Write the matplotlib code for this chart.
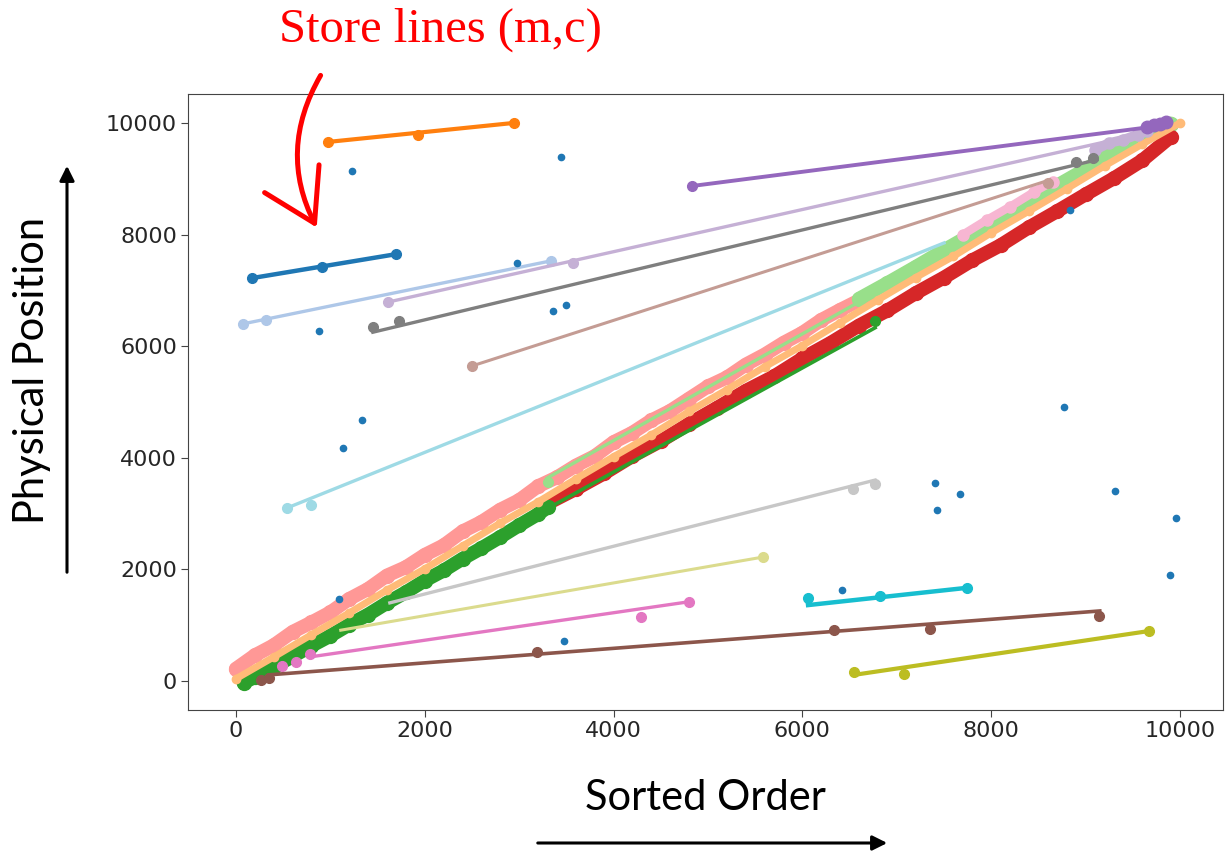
import matplotlib
matplotlib.use("Agg")
import matplotlib.pyplot as plt
from matplotlib.patches import FancyArrowPatch

# dense diagonal bands (sorted order vs physical position)
salmon_x = [0, 200, 400, 600, 800, 1000, 1200, 1400, 1600, 1800, 2000, 2200, 2400, 2600,
            2800, 3000, 3200, 3400, 3600, 3800, 4000, 4200, 4400, 4600, 4800, 5000, 5200,
            5400, 5600, 5800, 6000, 6200, 6400, 6600, 6700]
salmon_y = [220, 460, 640, 880, 1050, 1230, 1470, 1650, 1890, 2040, 2260, 2430, 2680, 2850,
            3070, 3240, 3490, 3650, 3860, 4030, 4280, 4450, 4670, 4840, 5060, 5280, 5440,
            5670, 5850, 6060, 6240, 6470, 6650, 6820, 6900]

orange_x = [0, 400, 800, 1200, 1600, 2000, 2400, 2800, 3200, 3600, 4000, 4400, 4800, 5200,
            5600, 6000, 6400, 6800, 7200, 7600, 8000, 8400, 8800, 9200, 9600, 10000]
orange_y = [40, 430, 830, 1220, 1630, 2010, 2420, 2830, 3210, 3620, 4020, 4410, 4830, 5220,
            5630, 6010, 6420, 6830, 7230, 7610, 8030, 8420, 8820, 9230, 9620, 10000]

green_x = [80, 200, 400, 600, 800, 1000, 1200, 1400, 1600, 1800, 2000, 2200, 2400, 2600,
           2800, 3000, 3200, 3300]
green_y = [-30, 70, 250, 440, 630, 810, 1010, 1190, 1400, 1590, 1800, 1980, 2190, 2380,
           2580, 2790, 2990, 3110]

red_x = [3300, 3600, 3900, 4200, 4500, 4800, 5100, 5400, 5700, 6000, 6300, 6600, 6900, 7200,
         7500, 7800, 8100, 8400, 8700, 9000, 9300, 9600, 9900]
red_y = [3180, 3440, 3720, 4030, 4300, 4610, 4900, 5200, 5460, 5780, 6060, 6370, 6640, 6950,
         7230, 7540, 7810, 8130, 8420, 8720, 9010, 9330, 9750]

lgreen_x = [6600, 6900, 7200, 7500, 7800, 8100, 8400, 8700, 9000, 9300, 9600, 9900]
lgreen_y = [6850, 7130, 7420, 7720, 8010, 8280, 8600, 8880, 9170, 9480, 9760, 9990]

lpink_x = [7700, 7950, 8200, 8450, 8650]
lpink_y = [8000, 8260, 8500, 8760, 8950]

lilac_cl_x = [9100, 9250, 9400, 9550, 9650]
lilac_cl_y = [9520, 9640, 9700, 9790, 9850]

purple_cl_x = [9650, 9720, 9790, 9850]
purple_cl_y = [9920, 9960, 9990, 10010]

# stored line segments: (x0, y0, x1, y1)
seg_colors = ['#1f77b4', '#ff7f0e', '#aec7e8', '#c5b0d5', '#7f7f7f', '#c49c94', '#9edae5',
              '#9467bd', '#98df8a', '#2ca02c', '#c7c7c7', '#dbdb8d', '#e377c2', '#8c564b',
              '#17becf', '#bcbd22']
seg_x0 = [170, 975, 75, 1610, 1450, 2500, 540, 4830, 3300, 3300, 1630, 1110, 780, 350, 6060, 6550]
seg_y0 = [7220, 9660, 6400, 6790, 6250, 5645, 3100, 8870, 3640, 3090, 1400, 910, 430, 110, 1360, 110]
seg_x1 = [1700, 2940, 3340, 9390, 9120, 8620, 7500, 9790, 6690, 6770, 6770, 5580, 4800, 9150, 7745, 9670]
seg_y1 = [7650, 10000, 7530, 9730, 9340, 8980, 7850, 9950, 6880, 6330, 3600, 2220, 1420, 1255, 1670, 895]
seg_lw = [3.2, 3.0, 2.4, 2.4, 2.4, 2.2, 2.4, 2.8, 2.4, 2.6, 2.4, 2.2, 2.4, 2.6, 3.2, 3.0]

# points belonging to each segment
seg_pts_x = [
    [170, 910, 1700],
    [975, 1930, 2940],
    [75, 320, 3340],
    [1610, 3570],
    [1450, 1730, 8900, 9080],
    [2500, 8600],
    [540, 800],
    [4830],
    [3300],
    [6770],
    [6540, 6770],
    [5580],
    [490, 640, 780, 4290, 4800],
    [260, 350, 3190, 6335, 7350, 9140],
    [6060, 6820, 7745],
    [6550, 7075, 9670],
]
seg_pts_y = [
    [7220, 7420, 7650],
    [9660, 9785, 10000],
    [6400, 6470, 7530],
    [6790, 7490],
    [6340, 6460, 9300, 9380],
    [5645, 8930],
    [3100, 3160],
    [8870],
    [3560],
    [6460],
    [3440, 3530],
    [2220],
    [270, 340, 480, 1150, 1420],
    [20, 60, 520, 915, 930, 1165],
    [1490, 1520, 1670],
    [160, 125, 895],
]

# points that no segment covers
out_x = [1229, 3443, 2977, 879, 3358, 3496, 1335, 1133, 1091, 3475, 6419, 7405, 7426, 7669,
         8771, 9311, 9957, 9894, 8834]
out_y = [9139, 9390, 7490, 6272, 6630, 6738, 4677, 4175, 1469, 717, 1631, 3548, 3064, 3351,
         4910, 3405, 2921, 1900, 8440]

W, H = 1230, 858
fig = plt.figure(figsize=(W / 100, H / 100), dpi=100)
ax = fig.add_axes([188 / W, 1 - 710 / H, (1223 - 188) / W, (710 - 94) / H])

band_kw = dict(marker='o', solid_capstyle='round', zorder=2)
ax.plot(salmon_x, salmon_y, color='#ff9896', lw=10, ms=10, **band_kw)
ax.plot(lgreen_x, lgreen_y, color='#98df8a', lw=10, ms=10, **band_kw)
ax.plot(lpink_x, lpink_y, color='#f7b6d2', lw=6, ms=8, **band_kw)
ax.plot(red_x, red_y, color='#d62728', lw=10, ms=10, **band_kw)
ax.plot(green_x, green_y, color='#2ca02c', lw=10, ms=10, **band_kw)
ax.plot(orange_x, orange_y, color='#ffbb78', lw=5, ms=6, **band_kw)
ax.plot(lilac_cl_x, lilac_cl_y, color='#c5b0d5', lw=7, ms=8, **band_kw)
ax.plot(purple_cl_x, purple_cl_y, color='#9467bd', lw=7, ms=9, **band_kw)

for i, c in enumerate(seg_colors):
    ax.plot([seg_x0[i], seg_x1[i]], [seg_y0[i], seg_y1[i]], color=c, lw=seg_lw[i], zorder=3)
    ax.plot(seg_pts_x[i], seg_pts_y[i], 'o', color=c, ms=7, zorder=3)

ax.plot(out_x, out_y, 'o', color='#1f77b4', ms=4.5, zorder=4)

ax.set_xlim(-508, 10455)
ax.set_ylim(-520, 10519)
ax.set_xticks([0, 2000, 4000, 6000, 8000, 10000])
ax.set_yticks([0, 2000, 4000, 6000, 8000, 10000])
ax.tick_params(labelsize=16, labelcolor='#262626', color='#444444', length=5, pad=3)
for s in ax.spines.values():
    s.set_color('#444444')

# labels and arrows outside the axes
fig.text(440 / W, 1 - 30 / H, 'Store lines (m,c)', color='red', fontsize=35,
         family='Liberation Serif', ha='center', va='center')
fig.text(32 / W, 1 - 370 / H, 'Physical Position', fontsize=30, family='Lato',
         rotation=90, ha='center', va='center')
fig.text(705 / W, 1 - 798 / H, 'Sorted Order', fontsize=30, family='Lato',
         ha='center', va='center')

fig.patches.append(FancyArrowPatch((67 / W, 1 - 575 / H), (67 / W, 1 - 163 / H),
                                   transform=fig.transFigure, arrowstyle='-|>',
                                   mutation_scale=22, lw=2.2, color='black'))
fig.patches.append(FancyArrowPatch((535 / W, 1 - 843 / H), (890 / W, 1 - 843 / H),
                                   transform=fig.transFigure, arrowstyle='-|>',
                                   mutation_scale=22, lw=2.2, color='black'))
fig.patches.append(FancyArrowPatch((322 / W, 1 - 73 / H), (318 / W, 1 - 230 / H),
                                   transform=fig.transFigure,
                                   connectionstyle='arc3,rad=0.28',
                                   arrowstyle='->,head_length=0.9,head_width=0.55',
                                   mutation_scale=40, lw=3.6, color='red'))

fig.savefig('out.png', dpi=100)
